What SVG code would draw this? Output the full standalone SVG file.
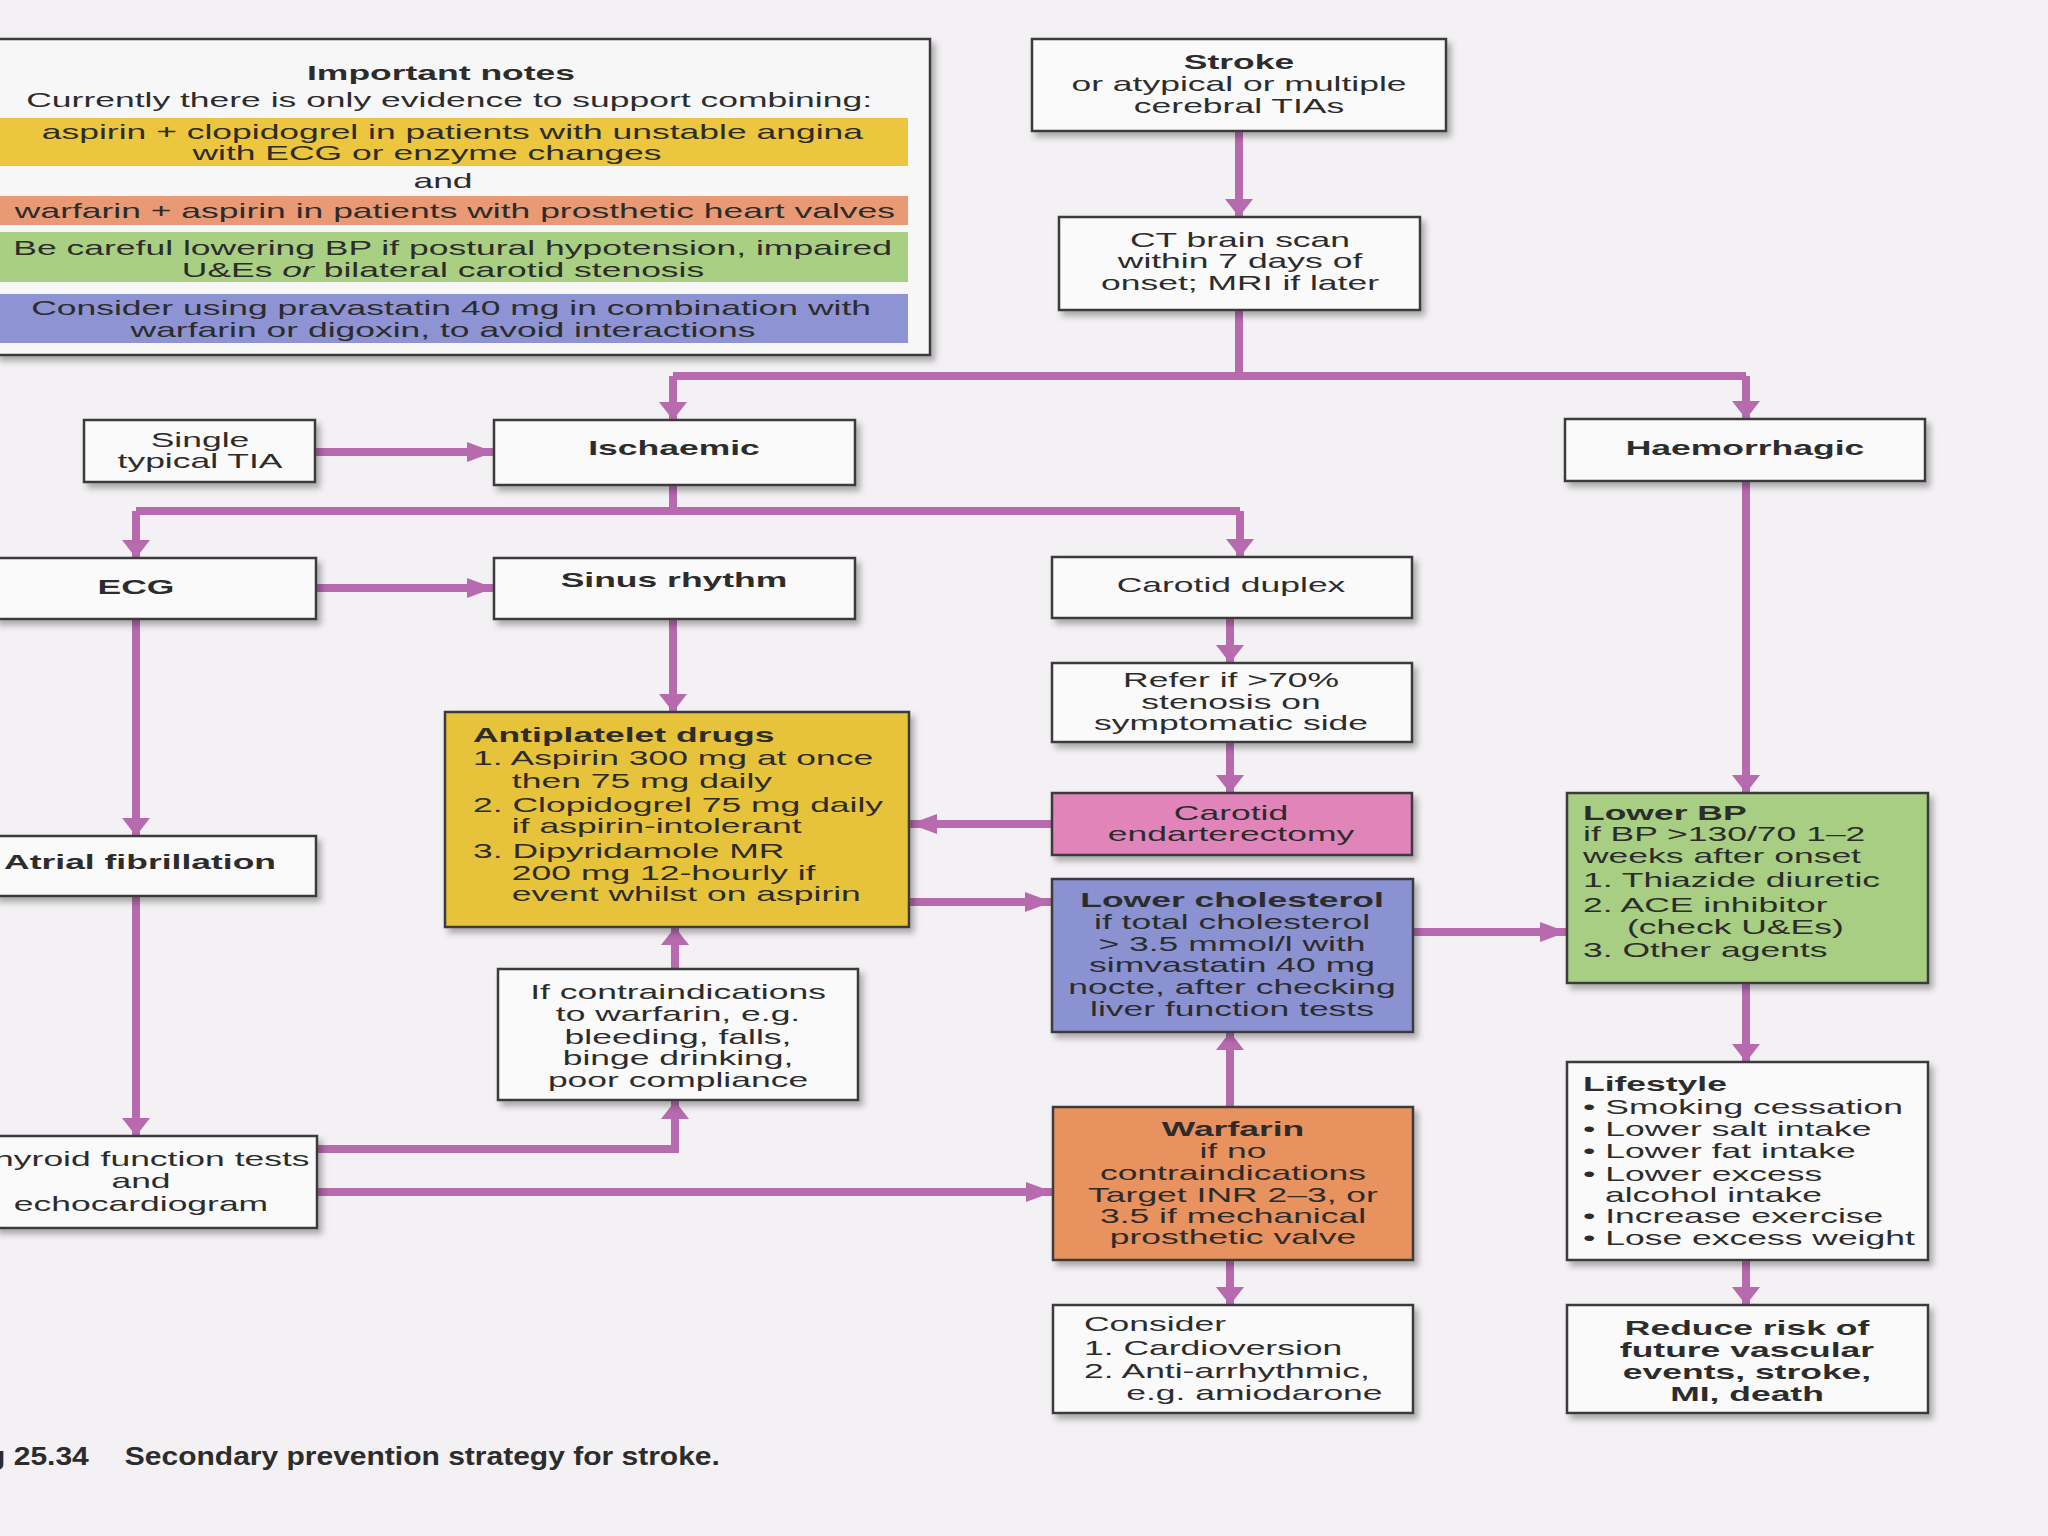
<svg xmlns="http://www.w3.org/2000/svg" width="2048" height="1536" viewBox="0 0 2048 1536">
<defs>
<style>
.t{font-family:"Liberation Sans",Arial,sans-serif;font-size:21px;fill:#2c2c2c}
.b{font-weight:bold}
.box{stroke:#3a3a3a;stroke-width:2.5;filter:url(#sh)}
.w{fill:#fafafa}
.c{fill:none;stroke:#b76aae;stroke-width:8}
</style>
<filter id="sh" x="-10%" y="-10%" width="130%" height="140%">
<feDropShadow dx="4" dy="5" stdDeviation="3" flood-color="#000" flood-opacity="0.3"/>
</filter>
<marker id="av" markerUnits="userSpaceOnUse" markerWidth="20" markerHeight="30" refX="18" refY="15" orient="auto">
<path d="M0,1 L18,15 L0,29 Z" fill="#b76aae"/>
</marker>
<marker id="ah" markerUnits="userSpaceOnUse" markerWidth="28" markerHeight="22" refX="27" refY="11" orient="auto">
<path d="M0,1 L27,11 L0,21 Z" fill="#b76aae"/>
</marker>
</defs>
<rect width="2048" height="1536" fill="#f3f1f3"/>

<g id="connectors">
<path class="c" d="M1239,131 V217" marker-end="url(#av)"/>
<path class="c" d="M1239,310 V376 M673,376 H1746"/>
<path class="c" d="M673,376 V420" marker-end="url(#av)"/>
<path class="c" d="M1746,376 V419" marker-end="url(#av)"/>
<path class="c" d="M315,452 H494" marker-end="url(#ah)"/>
<path class="c" d="M673,485 V511 M136,511 H1240"/>
<path class="c" d="M136,511 V558" marker-end="url(#av)"/>
<path class="c" d="M1240,511 V557" marker-end="url(#av)"/>
<path class="c" d="M316,588 H494" marker-end="url(#ah)"/>
<path class="c" d="M673,619 V712" marker-end="url(#av)"/>
<path class="c" d="M136,619 V836" marker-end="url(#av)"/>
<path class="c" d="M136,896 V1136" marker-end="url(#av)"/>
<path class="c" d="M1230,618 V663" marker-end="url(#av)"/>
<path class="c" d="M1230,742 V793" marker-end="url(#av)"/>
<path class="c" d="M1052,824 H910" marker-end="url(#ah)"/>
<path class="c" d="M909,902 H1052" marker-end="url(#ah)"/>
<path class="c" d="M1413,932 H1567" marker-end="url(#ah)"/>
<path class="c" d="M1746,481 V793" marker-end="url(#av)"/>
<path class="c" d="M1746,983 V1062" marker-end="url(#av)"/>
<path class="c" d="M1746,1260 V1305" marker-end="url(#av)"/>
<path class="c" d="M317,1149 H675 V1101" marker-end="url(#av)"/>
<path class="c" d="M317,1192 H1053" marker-end="url(#ah)"/>
<path class="c" d="M675,969 V927" marker-end="url(#av)"/>
<path class="c" d="M1230,1107 V1032" marker-end="url(#av)"/>
<path class="c" d="M1230,1260 V1305" marker-end="url(#av)"/>
</g>

<g id="notes">
<rect class="box" x="-4" y="39" width="934" height="316" fill="#f8f7f8"/>
<rect x="-4" y="118" width="912" height="48" fill="#ebc63e"/>
<rect x="-4" y="196" width="912" height="29" fill="#e99a74"/>
<rect x="-4" y="232" width="912" height="50" fill="#a9cf82"/>
<rect x="-4" y="294" width="912" height="49" fill="#8e93d4"/>
<g transform="translate(441,0) scale(1.69,1)" text-anchor="middle"><text class="t b" y="80">Important notes</text></g>
<g transform="translate(872,0) scale(1.69,1)" text-anchor="end"><text class="t" y="107">Currently there is only evidence to support combining:</text></g>
<g transform="translate(863,0) scale(1.69,1)" text-anchor="end"><text class="t" y="139">aspirin + clopidogrel in patients with unstable angina</text></g>
<g transform="translate(427,0) scale(1.69,1)" text-anchor="middle"><text class="t" y="160">with ECG or enzyme changes</text></g>
<g transform="translate(443,0) scale(1.69,1)" text-anchor="middle"><text class="t" y="188">and</text></g>
<g transform="translate(895,0) scale(1.69,1)" text-anchor="end"><text class="t" y="218">warfarin + aspirin in patients with prosthetic heart valves</text></g>
<g transform="translate(892,0) scale(1.69,1)" text-anchor="end"><text class="t" y="255">Be careful lowering BP if postural hypotension, impaired</text></g>
<g transform="translate(443,0) scale(1.69,1)" text-anchor="middle"><text class="t" y="277">U&amp;Es <tspan font-style="italic">or</tspan> bilateral carotid stenosis</text></g>
<g transform="translate(871,0) scale(1.69,1)" text-anchor="end"><text class="t" y="315">Consider using pravastatin 40 mg in combination with</text></g>
<g transform="translate(443,0) scale(1.69,1)" text-anchor="middle"><text class="t" y="337">warfarin or digoxin, to avoid interactions</text></g>
</g>

<g id="stroke">
<rect class="box w" x="1032" y="39" width="414" height="92"/>
<g transform="translate(1239,0) scale(1.69,1)" text-anchor="middle">
<text class="t b" y="69">Stroke</text>
<text class="t" y="91">or atypical or multiple</text>
<text class="t" y="113">cerebral TIAs</text>
</g>
</g>

<g id="ct">
<rect class="box w" x="1059" y="217" width="361" height="93"/>
<g transform="translate(1240,0) scale(1.69,1)" text-anchor="middle">
<text class="t" y="247">CT brain scan</text>
<text class="t" y="268">within 7 days of</text>
<text class="t" y="290">onset; MRI if later</text>
</g>
</g>

<g id="tia">
<rect class="box w" x="84" y="420" width="231" height="62"/>
<g transform="translate(200,0) scale(1.69,1)" text-anchor="middle">
<text class="t" y="447">Single</text>
<text class="t" y="468">typical TIA</text>
</g>
</g>

<g id="ischaemic">
<rect class="box w" x="494" y="420" width="361" height="65"/>
<g transform="translate(674,0) scale(1.69,1)" text-anchor="middle"><text class="t b" y="455">Ischaemic</text></g>
</g>

<g id="haemorrhagic">
<rect class="box w" x="1565" y="419" width="360" height="62"/>
<g transform="translate(1745,0) scale(1.69,1)" text-anchor="middle"><text class="t b" y="455">Haemorrhagic</text></g>
</g>

<g id="ecg">
<rect class="box w" x="-5" y="558" width="321" height="61"/>
<g transform="translate(136,0) scale(1.69,1)" text-anchor="middle"><text class="t b" y="594">ECG</text></g>
</g>

<g id="sinus">
<rect class="box w" x="494" y="558" width="361" height="61"/>
<g transform="translate(674,0) scale(1.69,1)" text-anchor="middle"><text class="t b" y="587">Sinus rhythm</text></g>
</g>

<g id="carotid-duplex">
<rect class="box w" x="1052" y="557" width="360" height="61"/>
<g transform="translate(1231,0) scale(1.69,1)" text-anchor="middle"><text class="t" y="592">Carotid duplex</text></g>
</g>

<g id="refer">
<rect class="box w" x="1052" y="663" width="360" height="79"/>
<g transform="translate(1231,0) scale(1.69,1)" text-anchor="middle">
<text class="t" y="687">Refer if &gt;70%</text>
<text class="t" y="709">stenosis on</text>
<text class="t" y="730">symptomatic side</text>
</g>
</g>

<g id="endarterectomy">
<rect class="box" x="1052" y="793" width="360" height="62" fill="#e184b9"/>
<g transform="translate(1231,0) scale(1.69,1)" text-anchor="middle">
<text class="t" y="820">Carotid</text>
<text class="t" y="841">endarterectomy</text>
</g>
</g>

<g id="antiplatelet">
<rect class="box" x="445" y="712" width="464" height="215" fill="#e7c33b"/>
<g transform="translate(473,0) scale(1.69,1)">
<text class="t b" y="742">Antiplatelet drugs</text>
<text class="t" y="765">1. Aspirin 300 mg at once</text>
<text class="t" x="23" y="788">then 75 mg daily</text>
<text class="t" y="812">2. Clopidogrel 75 mg daily</text>
<text class="t" x="23" y="833">if aspirin-intolerant</text>
<text class="t" y="858">3. Dipyridamole MR</text>
<text class="t" x="23" y="880">200 mg 12-hourly if</text>
<text class="t" x="23" y="901">event whilst on aspirin</text>
</g>
</g>

<g id="cholesterol">
<rect class="box" x="1052" y="879" width="361" height="153" fill="#8b92d1"/>
<g transform="translate(1232,0) scale(1.69,1)" text-anchor="middle">
<text class="t b" y="907">Lower cholesterol</text>
<text class="t" y="929">if total cholesterol</text>
<text class="t" y="951">&gt; 3.5 mmol/l with</text>
<text class="t" y="972">simvastatin 40 mg</text>
<text class="t" y="994">nocte, after checking</text>
<text class="t" y="1016">liver function tests</text>
</g>
</g>

<g id="lower-bp">
<rect class="box" x="1567" y="793" width="361" height="190" fill="#a7ce83"/>
<g transform="translate(1583,0) scale(1.69,1)">
<text class="t b" y="820">Lower BP</text>
<text class="t" y="841">if BP &gt;130/70 1–2</text>
<text class="t" y="863">weeks after onset</text>
<text class="t" y="887">1. Thiazide diuretic</text>
<text class="t" y="912">2. ACE inhibitor</text>
<text class="t" x="26" y="934">(check U&amp;Es)</text>
<text class="t" y="957">3. Other agents</text>
</g>
</g>

<g id="lifestyle">
<rect class="box w" x="1567" y="1062" width="361" height="198"/>
<g transform="translate(1583,0) scale(1.69,1)">
<text class="t b" y="1091">Lifestyle</text>
<text class="t" y="1114">• Smoking cessation</text>
<text class="t" y="1136">• Lower salt intake</text>
<text class="t" y="1158">• Lower fat intake</text>
<text class="t" y="1181">• Lower excess</text>
<text class="t" x="13" y="1202">alcohol intake</text>
<text class="t" y="1223">• Increase exercise</text>
<text class="t" y="1245">• Lose excess weight</text>
</g>
</g>

<g id="reduce-risk">
<rect class="box w" x="1567" y="1305" width="361" height="108"/>
<g transform="translate(1747,0) scale(1.69,1)" text-anchor="middle">
<text class="t b" y="1335">Reduce risk of</text>
<text class="t b" y="1357">future vascular</text>
<text class="t b" y="1379">events, stroke,</text>
<text class="t b" y="1401">MI, death</text>
</g>
</g>

<g id="atrial-fibrillation">
<rect class="box w" x="-5" y="836" width="321" height="60"/>
<g transform="translate(140,0) scale(1.69,1)" text-anchor="middle"><text class="t b" y="869">Atrial fibrillation</text></g>
</g>

<g id="thyroid">
<rect class="box w" x="-5" y="1136" width="322" height="92"/>
<g transform="translate(141,0) scale(1.69,1)" text-anchor="middle">
<text class="t" y="1166">Thyroid function tests</text>
<text class="t" y="1188">and</text>
<text class="t" y="1211">echocardiogram</text>
</g>
</g>

<g id="contraindications">
<rect class="box w" x="498" y="969" width="360" height="131"/>
<g transform="translate(678,0) scale(1.69,1)" text-anchor="middle">
<text class="t" y="999">If contraindications</text>
<text class="t" y="1021">to warfarin, e.g.</text>
<text class="t" y="1044">bleeding, falls,</text>
<text class="t" y="1065">binge drinking,</text>
<text class="t" y="1087">poor compliance</text>
</g>
</g>

<g id="warfarin">
<rect class="box" x="1053" y="1107" width="360" height="153" fill="#e8925f"/>
<g transform="translate(1233,0) scale(1.69,1)" text-anchor="middle">
<text class="t b" y="1136">Warfarin</text>
<text class="t" y="1158">if no</text>
<text class="t" y="1180">contraindications</text>
<text class="t" y="1202">Target INR 2–3, or</text>
<text class="t" y="1223">3.5 if mechanical</text>
<text class="t" y="1244">prosthetic valve</text>
</g>
</g>

<g id="consider">
<rect class="box w" x="1053" y="1305" width="360" height="108"/>
<g transform="translate(1084,0) scale(1.69,1)">
<text class="t" y="1331">Consider</text>
<text class="t" y="1355">1. Cardioversion</text>
<text class="t" y="1378">2. Anti-arrhythmic,</text>
<text class="t" x="25" y="1400">e.g. amiodarone</text>
</g>
</g>

<g id="caption">
<g transform="translate(0,1465) scale(1.2,1)">
<text class="t b" style="font-size:25px" x="74" text-anchor="end">Fig 25.34</text>
<text class="t b" style="font-size:25px" x="104">Secondary prevention strategy for stroke.</text>
</g>
</g>
</svg>
